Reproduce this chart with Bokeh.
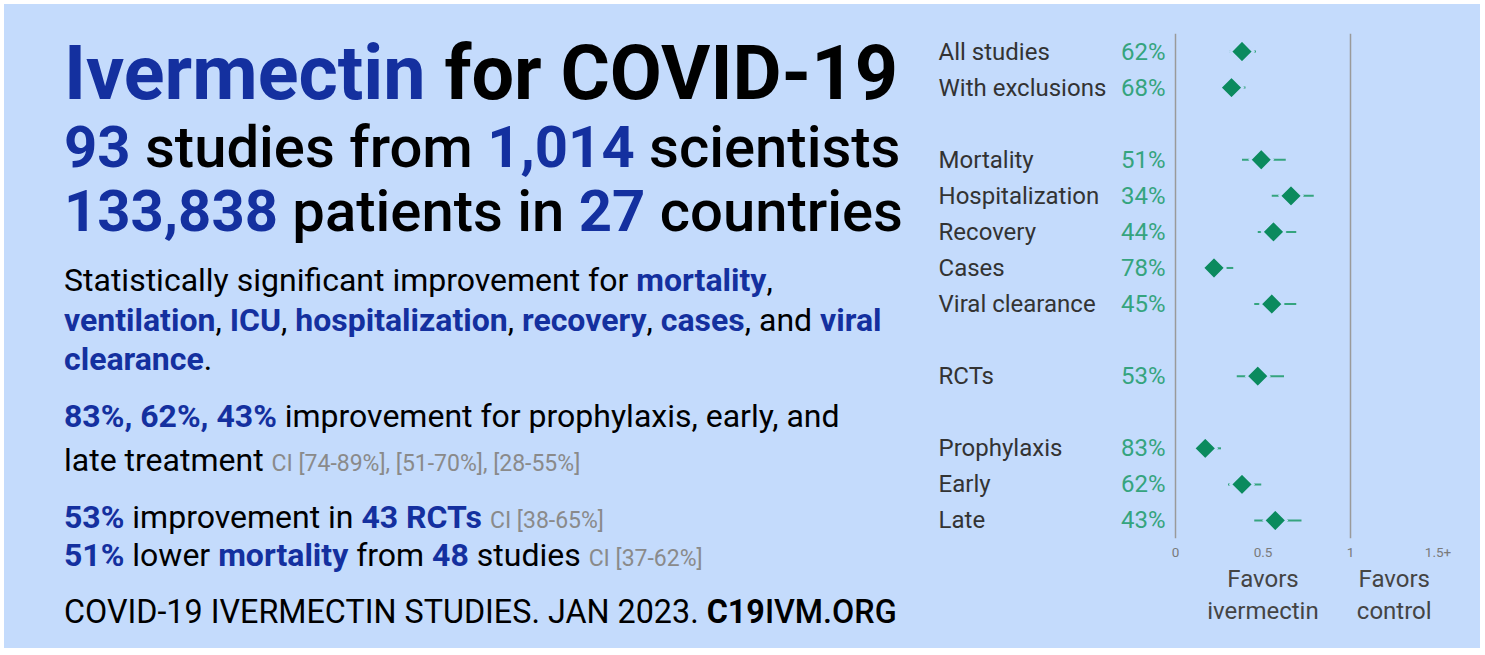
import math
from bokeh.plotting import figure
from bokeh.models import Div, Range1d, FactorRange, Span, FixedTicker, ColumnDataSource, LinearAxis
from bokeh.layouts import row
from bokeh.embed import file_html
from bokeh.resources import INLINE
from bokeh.core.properties import value

# ---------------- data ----------------
labels = ["All studies", "With exclusions", "Mortality", "Hospitalization", "Recovery",
          "Cases", "Viral clearance", "RCTs", "Prophylaxis", "Early", "Late"]
improvement = [62, 68, 51, 34, 44, 78, 45, 53, 83, 62, 43]          # % improvement
ci_low = [0.31, 0.26, 0.38, 0.55, 0.47, 0.16, 0.45, 0.35, 0.11, 0.30, 0.45]   # RR lower
ci_high = [0.46, 0.40, 0.63, 0.79, 0.69, 0.33, 0.69, 0.62, 0.26, 0.49, 0.72]  # RR upper
row_order = ["All studies", "With exclusions", " ", "Mortality", "Hospitalization", "Recovery",
             "Cases", "Viral clearance", "  ", "RCTs", "   ", "Prophylaxis", "Early", "Late"]
tick_values = [0, 0.5, 1, 1.5]
tick_labels = ["0", "0.5", "1", "1.5+"]
favor_positions = [0.5, 1.25]
favor_labels = ["Favors\nivermectin", "Favors\ncontrol"]

n_studies = "93"
n_scientists = "1,014"
n_patients = "133,838"
n_countries = "27"
stage_pct = ["83%", "62%", "43%"]
stage_ci = ["[74-89%]", "[51-70%]", "[28-55%]"]
rct_pct, rct_n, rct_ci = "53%", "43", "[38-65%]"
mort_pct, mort_n, mort_ci = "51%", "48", "[37-62%]"

# ---------------- styles ----------------
BG = "#c4dbfc"
BLUE = "#14309f"
GREEN_TXT = "#35a47e"
GREEN_DIA = "#0b8a5e"
FONT = "Roboto"

W_LEFT, W_RIGHT, H = 922, 554, 644


def b(t):
    return f'<span style="color:{BLUE};font-weight:700">{t}</span>'


def ci(t):
    return f'<span style="color:#8a8a8a;font-size:23px;line-height:23px">CI {t}</span>'


def line(top, size, lh, weight, content):
    return (f'<div style="position:absolute;left:60px;top:{top}px;white-space:nowrap;'
            f'font-family:{FONT};font-size:{size}px;line-height:{lh}px;font-weight:{weight};color:#000">'
            f'{content}</div>')


html = f'<div style="position:relative;width:{W_LEFT}px;height:{H}px;background:{BG}">'
html += line(32.4, 75.5, 75.5, 700, f'<span style="color:{BLUE}">Ivermectin</span> for COVID-19')
html += line(114.2, 58, 58, 500, f'{b(n_studies)} studies from {b(n_scientists)} scientists')
html += line(178.2, 58, 58, 500, f'{b(n_patients)} patients in {b(n_countries)} countries')
html += line(257.3, 32, 39.5, 400,
             f'Statistically significant improvement for {b("mortality")},<br>'
             f'{b("ventilation")}, {b("ICU")}, {b("hospitalization")}, {b("recovery")}, {b("cases")}, and {b("viral")}<br>'
             f'{b("clearance")}.')
html += line(389.6, 32, 44, 400,
             f'{b(", ".join(stage_pct))} improvement for prophylaxis, early, and<br>'
             f'late treatment {ci(", ".join(stage_ci))}')
html += line(493.5, 32, 38, 400,
             f'{b(rct_pct)} improvement in {b(rct_n + " RCTs")} {ci(rct_ci)}<br>'
             f'{b(mort_pct)} lower {b("mortality")} from {b(mort_n)} studies {ci(mort_ci)}')
html += line(591.5, 32.3, 32.3, 400,
             'COVID-19 IVERMECTIN STUDIES. JAN 2023. <span style="font-weight:700">C19</span>'
             '<span style="font-weight:500">IVM.ORG</span>')
html += '</div>'

div = Div(text=html, width=W_LEFT, height=H, margin=0,
          styles={"background-color": BG})

# ---------------- forest plot ----------------
src = ColumnDataSource(dict(
    label=labels,
    rr=[1 - v / 100 for v in improvement],
    lo=ci_low,
    hi=ci_high,
    pct=[f"{v}%" for v in improvement],
))

p = figure(width=W_RIGHT, height=H, margin=0,
           x_range=Range1d(-1.4229, 1.7429),
           y_range=FactorRange(factors=list(reversed(row_order))),
           y_axis_location=None,
           output_backend="svg", toolbar_location=None,
           min_border_left=0, min_border_right=0, min_border_top=29, min_border_bottom=110)
p.background_fill_color = None
p.border_fill_color = BG
p.outline_line_color = None
p.xgrid.visible = False
p.ygrid.visible = False

p.xaxis.ticker = FixedTicker(ticks=tick_values)
p.xaxis.major_label_overrides = {v: t for v, t in zip(tick_values, tick_labels)}
p.xaxis.axis_line_color = None
p.xaxis.major_tick_line_color = None
p.xaxis.minor_tick_line_color = None
p.xaxis.major_tick_out = 0
p.xaxis.major_label_standoff = 9
p.xaxis.major_label_text_font = FONT
p.xaxis.major_label_text_font_size = "13.5px"
p.xaxis.major_label_text_color = "#7a7a7a"

favor_axis = LinearAxis(ticker=FixedTicker(ticks=favor_positions),
                        major_label_overrides={v: t for v, t in zip(favor_positions, favor_labels)},
                        axis_line_color=None, major_tick_line_color=None, minor_tick_line_color=None,
                        major_tick_out=0, major_label_standoff=5,
                        major_label_text_font=FONT, major_label_text_font_size="24px",
                        major_label_text_color="#444444", major_label_text_line_height=1.15)
p.add_layout(favor_axis, "below")

for loc in (0, 1):
    p.add_layout(Span(location=loc, dimension="height", line_color="#9a9a9a", line_width=1.5))

p.text(x=-1.354, y="label", text="label", source=src, text_font=value(FONT),
       text_font_size="24px", text_color="#333333", text_align="left", text_baseline="middle")
p.text(x=-0.057, y="label", text="pct", source=src, text_font=value(FONT),
       text_font_size="24px", text_color=GREEN_TXT, text_align="right", text_baseline="middle")

p.segment(x0="lo", y0="label", x1="hi", y1="label", source=src,
          line_color=GREEN_TXT, line_width=2)
p.scatter(x="rr", y="label", source=src, marker="square", angle=math.pi / 4, size=16,
          fill_color=GREEN_DIA, line_color=BG, line_width=2.5, line_join="miter")

layout = row(div, p, spacing=0, margin=(4, 0, 0, 4), styles={"background-color": BG})
open("out.html", "w").write(file_html(layout, INLINE, title="Ivermectin for COVID-19"))
